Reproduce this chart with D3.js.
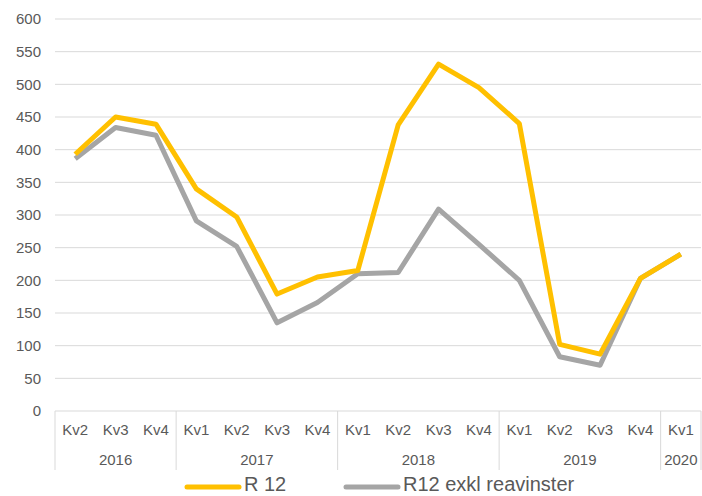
<!DOCTYPE html>
<html>
<head>
<meta charset="utf-8">
<script src="https://cdn.jsdelivr.net/npm/d3@7"></script>
<style>
  body { margin: 0; background: #fff; }
  text { font-family: "Liberation Sans", Arial, sans-serif; fill: #595959; }
</style>
</head>
<body>
<svg id="chart"></svg>
<script>
const global_width = 702,
  global_height = 496;

// data
const years = ['2016', '2017', '2018', '2019', '2020'];
const quarters = [
  ['Kv2', 'Kv3', 'Kv4'],
  ['Kv1', 'Kv2', 'Kv3', 'Kv4'],
  ['Kv1', 'Kv2', 'Kv3', 'Kv4'],
  ['Kv1', 'Kv2', 'Kv3', 'Kv4'],
  ['Kv1']
];
const r12 = [393, 450, 439, 340, 297, 179, 205, 215, 438, 531, 495, 440, 102, 87, 203, 240];
const r12Exkl = [386, 434, 422, 291, 252, 135, 166, 210, 212, 309, 255, 200, 83, 70, 203, 240];
const yTicks = [0, 50, 100, 150, 200, 250, 300, 350, 400, 450, 500, 550, 600];

const margin = {top: 19, right: 1, bottom: 85, left: 55};
const width = global_width - margin.left - margin.right,
  height = global_height - margin.top - margin.bottom;

const svg = d3.select('#chart')
  .attr('width', global_width)
  .attr('height', global_height);

const plot = svg.append('g')
  .attr('transform', `translate(${margin.left},${margin.top})`);

// flat list of categories
const cats = [];
quarters.forEach((qs, i) => qs.forEach(q => cats.push({year: years[i], q: q, key: years[i] + q})));

const x = d3.scaleBand().domain(cats.map(d => d.key)).range([0, width]);
const y = d3.scaleLinear().domain([0, 600]).range([height, 0]);

// gridlines
plot.append('g')
  .selectAll('line')
  .data(yTicks.filter(d => d > 0))
  .join('line')
  .attr('x1', 0).attr('x2', width)
  .attr('y1', d => y(d)).attr('y2', d => y(d))
  .attr('stroke', '#d9d9d9')
  .attr('stroke-width', 1);

// y axis labels
plot.append('g')
  .selectAll('text')
  .data(yTicks)
  .join('text')
  .attr('x', -14)
  .attr('y', d => y(d))
  .attr('dy', '0.35em')
  .attr('text-anchor', 'end')
  .style('font-size', '15px')
  .text(d => d);

// x axis line
plot.append('line')
  .attr('x1', 0).attr('x2', width)
  .attr('y1', height).attr('y2', height)
  .attr('stroke', '#d9d9d9');

// group separators
let idx = 0;
const bounds = [0];
quarters.forEach(qs => { idx += qs.length; bounds.push(idx); });
plot.append('g')
  .selectAll('line')
  .data(bounds)
  .join('line')
  .attr('x1', d => d * x.step()).attr('x2', d => d * x.step())
  .attr('y1', height).attr('y2', height + 59)
  .attr('stroke', '#d9d9d9');

// quarter labels
plot.append('g')
  .selectAll('text')
  .data(cats)
  .join('text')
  .attr('x', d => x(d.key) + x.bandwidth() / 2)
  .attr('y', height + 19)
  .attr('dy', '0.35em')
  .attr('text-anchor', 'middle')
  .style('font-size', '15px')
  .text(d => d.q);

// year labels
plot.append('g')
  .selectAll('text')
  .data(years)
  .join('text')
  .attr('x', (d, i) => (bounds[i] + bounds[i + 1]) / 2 * x.step())
  .attr('y', height + 48.5)
  .attr('dy', '0.35em')
  .attr('text-anchor', 'middle')
  .style('font-size', '15px')
  .text(d => d);

// lines
const series = [
  {name: 'R12 exkl reavinster', values: r12Exkl, color: '#a5a5a5'},
  {name: 'R 12', values: r12, color: '#ffc000'}
];

const line = d3.line()
  .x((d, i) => x(cats[i].key) + x.bandwidth() / 2)
  .y(d => y(d));

plot.append('g')
  .selectAll('path')
  .data(series)
  .join('path')
  .attr('d', d => line(d.values))
  .attr('fill', 'none')
  .attr('stroke', d => d.color)
  .attr('stroke-width', 5)
  .attr('stroke-linejoin', 'round');

// legend
const legend = svg.append('g');
const legendItems = [
  {name: 'R 12', color: '#ffc000', x: 185},
  {name: 'R12 exkl reavinster', color: '#a5a5a5', x: 344}
];
legendItems.forEach(d => {
  legend.append('line')
    .attr('x1', d.x + 2).attr('x2', d.x + 54)
    .attr('y1', 487).attr('y2', 487)
    .attr('stroke', d.color)
    .attr('stroke-width', 5)
    .attr('stroke-linecap', 'round');
  legend.append('text')
    .attr('x', d.x + 59)
    .attr('y', 491)
    .style('font-size', '20px')
    .text(d.name);
});
</script>
</body>
</html>
